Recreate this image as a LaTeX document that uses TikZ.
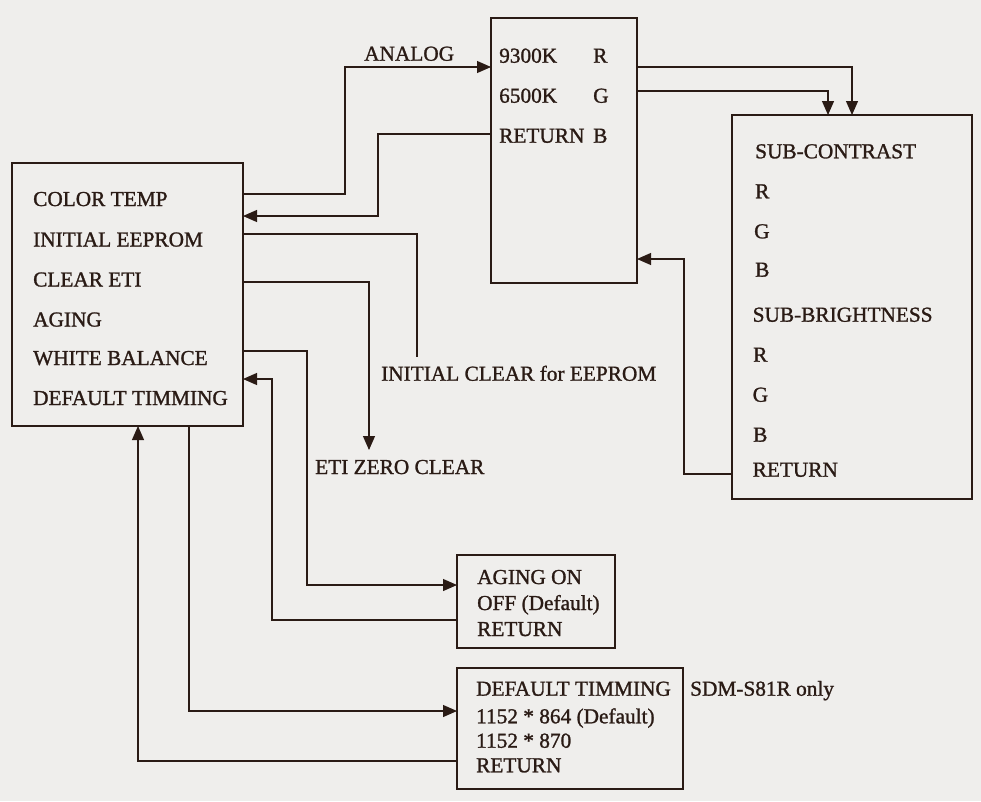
\documentclass[tikz,border=0pt]{standalone}
\usepackage{fontspec}
\setmainfont{Liberation Serif}[FakeBold=1.2]
\usetikzlibrary{arrows.meta}
\definecolor{ink}{RGB}{42,27,21}
\definecolor{paper}{RGB}{239,238,236}
\tikzset{
	box/.style={draw=ink, line width=2pt, inner sep=0pt, outer sep=0pt, anchor=north west},
	item/.style={text=ink, inner sep=0pt, anchor=base west, font=\fontsize{21.3}{25}\selectfont},
	wire/.style={draw=ink, line width=1.1pt},
	flow/.style={wire, -{Triangle[length=14pt, width=12pt]}}
}
\begin{document}
\begin{tikzpicture}[x=1pt, y=-1pt]
				\fill[paper] (0,0) rectangle (981,801);
				\useasboundingbox (0,0) rectangle (981,801);
				\node[box, minimum width=231pt, minimum height=263pt] (menu) at (12,163) {};
				\node[box, minimum width=146pt, minimum height=265pt] (ctbox) at (491,18) {};
				\node[box, minimum width=240pt, minimum height=384pt] (wbbox) at (732,115) {};
				\node[box, minimum width=158pt, minimum height=93pt] (agbox) at (457,555) {};
				\node[box, minimum width=226pt, minimum height=121pt] (dtbox) at (457,668) {};
				\foreach \t/\y/\n in {COLOR TEMP/206/ctemp, INITIAL EEPROM/246.5/ieeprom, CLEAR ETI/286.5/cleti, AGING/326.5/aging, WHITE BALANCE/365/wbal, DEFAULT TIMMING/405/dtim}
					\node[item] (\n) at (33,\y) {\t};
				\foreach \t/\c/\y/\n in {9300K/R/62.7/k93, 6500K/G/102.7/k65, RETURN/B/142.7/ctret} {
					\node[item] (\n) at (499,\y) {\t};
					\node[item] (\n-c) at (593,\y) {\c};
				}
				\foreach \t/\x/\y/\n in {SUB-CONTRAST/755/158.3/sc, R/755/198.3/scr, G/754/238.3/scg, B/755/276.7/scb, SUB-BRIGHTNESS/752.5/321.7/sb, R/753/361.7/sbr, G/752.5/401.7/sbg, B/753/441.7/sbb, RETURN/752.5/476.7/wbret}
					\node[item] (\n) at (\x,\y) {\t};
				\foreach \t/\y/\n in {AGING ON/584/agon, OFF (Default)/610/agoff, RETURN/636/agret}
					\node[item] (\n) at (477,\y) {\t};
				\foreach \t/\y/\n in {DEFAULT TIMMING/695.7/dthead, 1152 * 864 (Default)/723.3/dt864, 1152 * 870/747.7/dt870, RETURN/772.3/dtret}
					\node[item] (\n) at (476,\y) {\t};
				\node[item] (analog) at (364,60.7) {ANALOG};
				\node[item] (inclear) at (381,380.7) {INITIAL CLEAR for EEPROM};
				\node[item] (etizero) at (315,474) {ETI ZERO CLEAR};
				\node[item] (sdm) at (690,695.7) {SDM-S81R only};
				\draw[flow] (menu.east |- 0,194) -| (345,67) -- (ctbox.west |- 0,67);
				\draw[flow] (ctbox.west |- 0,134) -| (378,216) -- (menu.east |- 0,216);
				\draw[wire] (menu.east |- 0,234) -| (417,357);
				\draw[flow] (menu.east |- 0,282) -| (369,450);
				\draw[flow] (menu.east |- 0,351) -| (307,585) -- (agbox.west |- 0,585);
				\draw[flow] (agbox.west |- 0,620) -| (272,379) -- (menu.east |- 0,379);
				\draw[flow] (menu.south -| 189,0) |- (dtbox.west |- 0,711);
				\draw[flow] (dtbox.west |- 0,761) -| (menu.south -| 138,0);
				\draw[flow] (ctbox.east |- 0,67) -| (wbbox.north -| 852,0);
				\draw[flow] (ctbox.east |- 0,91) -| (wbbox.north -| 828,0);
				\draw[flow] (wbbox.west |- 0,474) -| (684,259) -- (ctbox.east |- 0,259);
\end{tikzpicture}
\end{document}
